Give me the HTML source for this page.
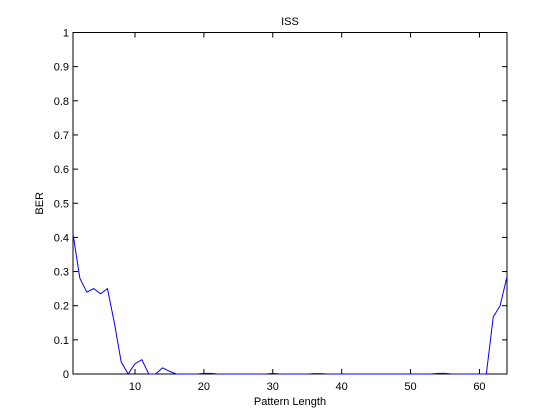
<!DOCTYPE html>
<html><head><meta charset="utf-8"><style>
html,body{margin:0;padding:0;background:#fff;}
svg{display:block;font-family:"Liberation Sans",sans-serif;}
</style></head><body>
<svg id="chart" width="560" height="420">
<rect x="0" y="0" width="560" height="420" fill="#fff"/>
</svg>
<script>
const xs=[1,2,3,4,5,6,7,8,9,10,11,12,13,14,15,16,17,18,19,20,21,22,23,24,25,26,27,28,29,30,31,32,33,34,35,36,37,38,39,40,41,42,43,44,45,46,47,48,49,50,51,52,53,54,55,56,57,58,59,60,61,62,63,64];
const ber=[0.41,0.28,0.24,0.25,0.235,0.25,0.15,0.035,0,0.03,0.042,0,0,0.018,0.008,0,0,0,0,0.002,0.002,0,0,0,0,0,0,0,0,0.002,0,0,0,0,0,0.001,0.001,0,0,0,0,0,0,0,0,0,0,0,0,0,0,0,0,0.002,0.002,0,0,0,0,0,0,0.167,0.2,0.285];
const xTicks=[10,20,30,40,50,60];
const yTicks=[0,0.1,0.2,0.3,0.4,0.5,0.6,0.7,0.8,0.9,1];
const yTickLabels=["0","0.1","0.2","0.3","0.4","0.5","0.6","0.7","0.8","0.9","1"];
const L=73,R=507,T=32.5,B=374;
const sx=v=>L+(v-1)/(64-1)*(R-L);
const sy=v=>B-v*(B-T);
const svg=document.getElementById('chart');
const NS='http://www.w3.org/2000/svg';
function mk(tag,attrs){const e=document.createElementNS(NS,tag);for(const k in attrs)e.setAttribute(k,attrs[k]);svg.appendChild(e);return e;}
let fr=mk('rect',{x:L,y:T,width:R-L,height:B-T,fill:'none',stroke:'#000','stroke-width':1});


xTicks.forEach(t=>{
 const x=sx(t);
 mk('line',{x1:x,y1:B,x2:x,y2:B-5,stroke:'#000'});
 mk('line',{x1:x,y1:T,x2:x,y2:T+5,stroke:'#000'});
 const tx=mk('text',{x:x,y:B+16,'text-anchor':'middle','font-size':11});
 tx.textContent=t;
 
 
});
yTicks.forEach((t,i)=>{
 const y=sy(t);
 mk('line',{x1:L,y1:y,x2:L+5,y2:y,stroke:'#000'});
 mk('line',{x1:R,y1:y,x2:R-5,y2:y,stroke:'#000'});
 const tx=mk('text',{x:L-4,y:y+4,'text-anchor':'end','font-size':11});
 tx.textContent=yTickLabels[i];
 
 
});
const pl=mk('polyline',{points:xs.map((x,i)=>sx(x)+','+sy(ber[i])).join(' '),fill:'none',stroke:'#0000ff','stroke-width':1});


const title=mk('text',{x:(L+R)/2,y:25,'text-anchor':'middle','font-size':11});
title.textContent='ISS';


const xl=mk('text',{x:(L+R)/2,y:405,'text-anchor':'middle','font-size':11});
xl.textContent='Pattern Length';


const yl=mk('text',{x:43,y:(T+B)/2,'text-anchor':'middle','font-size':11,transform:'rotate(-90 43 '+((T+B)/2)+')'});
yl.textContent='BER';


</script>
</body></html>
